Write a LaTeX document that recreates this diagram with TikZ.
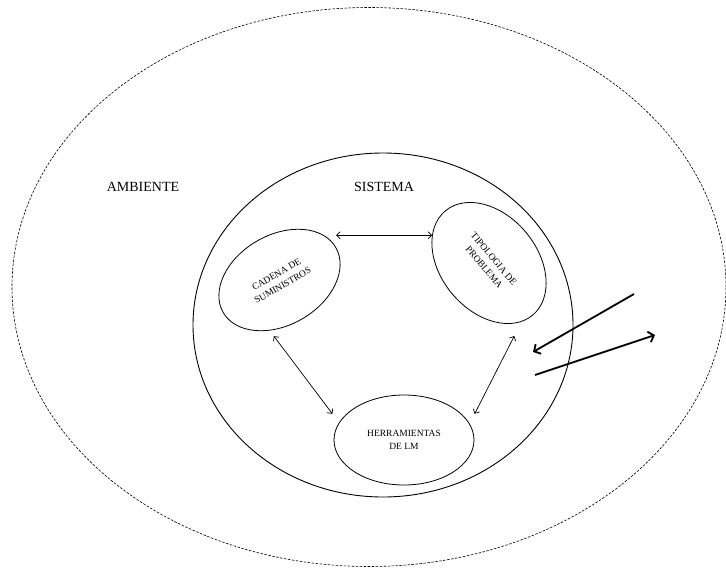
\documentclass[tikz,border=0pt]{standalone}
\usepackage{fontspec}
\setmainfont{Liberation Serif}
\usetikzlibrary{shapes.geometric,arrows.meta}

\begin{document}
\begin{tikzpicture}[x=1pt,y=-1pt,
  bubble/.style={ellipse,draw,line width=0.8pt,inner sep=0pt,align=center,font=\fontsize{9.5}{12.5}\selectfont},
  tag/.style={font=\fontsize{14}{16}\selectfont},
  link/.style={{Straight Barb[length=3.5pt,width=7pt]}-{Straight Barb[length=3.5pt,width=7pt]},line width=0.7pt},
  flow/.style={-{Straight Barb[length=5pt,width=11pt]},line width=1.8pt}]
\useasboundingbox (0,0) rectangle (726,571);
  \node[ellipse,draw,dash pattern=on 2.5pt off 1.5pt,line width=0.6pt,minimum width=714pt,minimum height=559pt] (ambiente) at (369,287) {};
  \node[ellipse,draw,line width=0.9pt,minimum width=380pt,minimum height=344pt] (sistema) at (383,325) {};
  \node[tag] (amb) at (143,187) {AMBIENTE};
  \node[tag] (sis) at (384,187) {SISTEMA};
  \node[bubble,rotate=30,minimum width=130pt,minimum height=90pt] (cad) at (279.5,280) {CADENA DE\\SUMINISTROS};
  \node[bubble,rotate=-50,minimum width=136pt,minimum height=96pt] (tip) at (489,263) {TIPOLOGIA DE\\PROBLEMA};
  \node[bubble,minimum width=140pt,minimum height=90pt] (herr) at (404,440) {HERRAMIENTAS\\DE LM};
  \draw[link] (cad.east |- tip.204) -- (tip.204);
  \draw[link,shorten <=7pt,shorten >=11pt] (cad.229) -- (herr.165);
  \draw[link,shorten <=16pt,shorten >=11pt] (tip.349) -- (herr.14);
  \coordinate (in1) at (634,294);
  \coordinate (in2) at (533,352);
  \coordinate (out1) at (535,375);
  \coordinate (out2) at (655,335);
  \draw[flow] (in1) -- (in2);
  \draw[flow] (out1) -- (out2);
\end{tikzpicture}
\end{document}
